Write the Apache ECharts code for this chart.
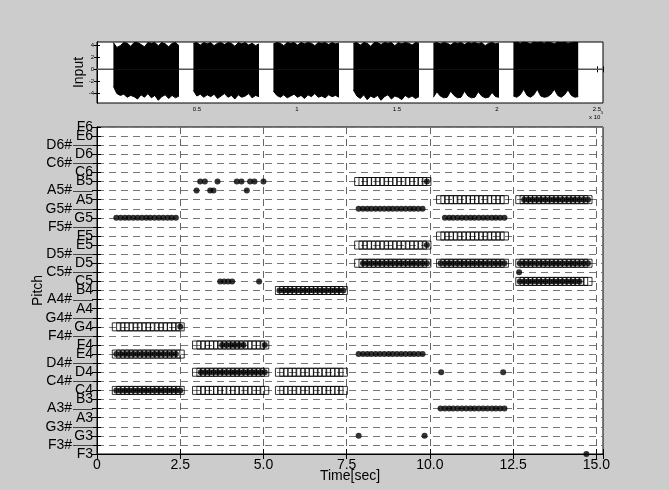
<!DOCTYPE html>
<html><head><meta charset="utf-8">
<script src="https://cdn.jsdelivr.net/npm/echarts@6/dist/echarts.min.js"></script>
<style>html,body{margin:0;padding:0;background:#cccccc;} #c{width:669px;height:490px;}</style>
</head><body><div id="c"></div>
<script>
// ---------- DATA ----------
const pitchLabels = ['F3','F3#','G3','G3#','A3','A3#','B3','C4','C4#','D4','D4#','E4','F4','F4#','G4','G4#','A4','A4#','B4','C5','C5#','D5','D5#','E5','F5','F5#','G5','G5#','A5','A5#','B5','C6','C6#','D6','D6#','E6','F6'];
const timeTicks = [0, 2.5, 5, 7.5, 10, 12.5, 15];
const inputTicks = [-4, -2, 0, 2, 4];

// frame times (sec) of the analysis frames in each note segment
const frames1 = [0.58,0.71,0.84,0.96,1.09,1.22,1.35,1.48,1.60,1.73,1.86,1.99,2.12,2.24,2.37,2.50];
const frames2 = [2.99,3.12,3.25,3.38,3.50,3.63,3.76,3.89,4.02,4.14,4.27,4.40,4.53,4.66,4.78,4.91,5.04];
const frames3 = [5.48,5.61,5.74,5.86,5.99,6.12,6.25,6.38,6.50,6.63,6.76,6.89,7.02,7.14,7.27,7.40];
const frames4 = [7.86,7.99,8.12,8.24,8.37,8.50,8.63,8.76,8.88,9.01,9.14,9.27,9.40,9.52,9.65,9.78,9.91];
const frames5 = [10.32,10.45,10.58,10.70,10.83,10.96,11.09,11.22,11.34,11.47,11.60,11.73,11.86,11.98,12.11,12.24];
const frames6 = [12.70,12.83,12.96,13.08,13.21,13.34,13.47,13.60,13.72,13.85,13.98,14.11,14.24,14.36,14.49,14.62,14.75];

// reference notes (open squares) of each segment
const truthNotes = [
  ['C4','E4','G4'],
  ['C4','D4','F4'],
  ['C4','D4','B4'],
  ['D5','E5','B5'],
  ['D5','F5','A5'],
  ['C5','D5','A5']
];
// estimated pitches (filled dots): [segment, pitch, firstFrame, lastFrame]
const estRuns = [
  [0,'G5',0,14],[0,'E4',0,14],[0,'C4',0,15],[0,'G4',15,15],
  [1,'D4',1,16],[1,'F4',6,11],[1,'F4',16,16],
  [2,'B4',0,15],
  [3,'G5#',0,15],[3,'E4',0,15],[3,'D5',1,16],[3,'B5',16,16],[3,'E5',16,16],
  [4,'G5',1,15],[4,'D5',0,15],[4,'A3#',0,15],
  [5,'A5',1,16],[5,'D5',0,16],[5,'C5',0,14]
];
// isolated estimated dots: [time, pitch]
const estPoints = [
  [3.10,'B5'],[3.24,'B5'],[3.62,'B5'],[4.20,'B5'],[4.34,'B5'],[4.60,'B5'],[4.73,'B5'],[5.00,'B5'],
  [2.99,'A5#'],[3.40,'A5#'],[3.50,'A5#'],[4.50,'A5#'],
  [3.70,'C5'],[3.82,'C5'],[3.94,'C5'],[4.06,'C5'],[4.87,'C5'],
  [7.86,'G3'],[9.84,'G3'],
  [10.34,'D4'],[12.20,'D4'],
  [12.68,'C5#'],
  [14.70,'F3']
];

// input waveform: burst start/end (samples) and envelope
const burstStart = [8200, 48200, 88200, 128200, 168200, 208200];
const burstEnd   = [41000, 81000, 121000, 161000, 201000, 240600];
const up1 = [4.4,3.6,3.9,4.4,4.3,3.8,4.4,4.4,4.1,3.7,4.4,4.3,4.4,3.9,4.4,4.2,3.7,4.3,4.4,3.9];
const lo1 = [-2.8,-4.0,-4.3,-4.1,-4.6,-4.3,-4.5,-4.9,-4.2,-4.6,-4.0,-4.7,-4.3,-5.1,-4.5,-4.2,-4.8,-4.3,-4.7,-4.4];
const up2 = [4.3,4.4,4.0,4.4,4.2,4.4,3.9,4.3,4.4,4.1,4.4,4.3,3.8,4.4,4.2,4.4,4.0,4.3,3.9,4.2];
const lo2 = [-3.5,-4.4,-4.1,-4.6,-4.2,-4.5,-4.1,-4.8,-4.4,-4.0,-4.6,-4.3,-4.9,-4.2,-4.6,-4.4,-4.0,-4.7,-4.3,-4.5];
const up3 = [4.2,4.4,4.3,3.9,4.4,4.3,4.4,4.0,4.4,4.2,4.4,4.3,3.9,4.4,4.3,4.4,4.1,4.4,4.2,4.3];
const lo3 = [-3.6,-4.3,-4.6,-4.2,-4.7,-4.4,-4.1,-4.6,-4.3,-4.8,-4.2,-4.5,-4.0,-4.6,-4.4,-4.7,-4.2,-4.5,-4.3,-4.6];
const up4 = [4.3,4.4,4.0,4.4,4.3,3.8,4.4,4.4,4.1,4.4,4.3,4.4,3.9,4.4,4.2,4.4,4.3,4.0,4.4,4.3];
const lo4 = [-3.4,-4.4,-4.8,-4.2,-5.0,-4.4,-4.7,-4.3,-5.1,-4.5,-4.2,-4.9,-4.4,-4.6,-5.0,-4.3,-4.7,-4.4,-4.8,-4.5];
const up5 = [4.3,4.4,4.2,4.4,4.3,4.0,4.4,4.3,4.4,4.1,4.4,4.3,4.4,4.2,4.4,3.9,4.3,4.4,4.2,4.3];
const lo5 = [-4.6,-3.7,-4.4,-4.7,-4.6,-3.6,-4.3,-4.7,-4.6,-3.6,-4.4,-4.7,-4.6,-3.7,-4.4,-4.7,-4.6,-3.8,-4.5,-4.6];
const up6 = [4.4,4.5,4.3,4.5,4.4,4.2,4.5,4.4,4.5,4.3,4.5,4.4,4.2,4.5,4.4,4.5,4.3,4.4,4.5,4.4];
const lo6 = [-4.4,-4.6,-4.2,-3.3,-4.3,-4.6,-4.2,-3.3,-4.4,-4.6,-4.5,-4.1,-3.3,-4.3,-4.6,-4.2,-3.4,-4.3,-4.6,-4.5];

// ---------- BUILD ----------
const allFrames = [frames1, frames2, frames3, frames4, frames5, frames6];
const uppers = [up1, up2, up3, up4, up5, up6];
const lowers = [lo1, lo2, lo3, lo4, lo5, lo6];
const pIdx = p => pitchLabels.indexOf(p);
const sharpIdx = [], naturalIdx = [];
pitchLabels.forEach((p, i) => { (p.endsWith('#') ? sharpIdx : naturalIdx).push(i); });
// natural labels that sit directly under the top label go on a helper axis
const topIdx = pitchLabels.length - 1;
const naturalMain = naturalIdx.filter(i => i !== topIdx - 1);
const naturalExtra = naturalIdx.filter(i => i === topIdx - 1);

const squareData = [];
truthNotes.forEach((notes, s) => {
  notes.forEach(p => allFrames[s].forEach(t => squareData.push([t, pIdx(p)])));
});
const dotData = [];
estRuns.forEach(([s, p, a, b]) => {
  for (let i = a; i <= b; i++) dotData.push([allFrames[s][i], pIdx(p)]);
});
estPoints.forEach(([t, p]) => dotData.push([t, pIdx(p)]));

const FONT = 'Liberation Sans';
const waveSeries = [];
waveSeries.push({
  type: 'line', xAxisIndex: 0, yAxisIndex: 0, data: [[0, 0], [253000, 0]],
  symbol: 'none', silent: true, lineStyle: { color: '#555', width: 1.5 }, z: 1
});
burstStart.forEach((st, b) => {
  [uppers[b], lowers[b]].forEach(env => {
    const n = env.length;
    const d = env.map((v, i) => [st + (burstEnd[b] - st) * i / (n - 1), v]);
    waveSeries.push({
      type: 'line', xAxisIndex: 0, yAxisIndex: 0, data: d, symbol: 'none', silent: true,
      lineStyle: { color: '#000', width: 1 },
      areaStyle: { color: '#000', opacity: 1, origin: 0 }, z: 2
    });
  });
});

const chart = echarts.init(document.getElementById('c'), null, { renderer: 'canvas' });
const blackLine = { lineStyle: { color: '#000', width: 1 } };
const baseGraphic = [
  { type: 'text', left: 589, top: 114, style: { text: 'x 10', fontSize: 6, fill: '#000', fontFamily: FONT } },
  { type: 'text', left: 601, top: 111, style: { text: '5', fontSize: 4, fill: '#000', fontFamily: FONT } }
];
const noAxisLine = { show: false };
chart.setOption({
  animation: false,
  backgroundColor: '#cccccc',
  textStyle: { fontFamily: FONT },
  grid: [
    { left: 97, right: 66, top: 42, height: 61, show: true, backgroundColor: '#fff', borderColor: '#000', borderWidth: 1 },
    { left: 97, right: 66, top: 127, bottom: 36, show: true, backgroundColor: '#fff', borderColor: '#000', borderWidth: 1 }
  ],
  xAxis: [
    { gridIndex: 0, type: 'value', min: 0, max: 253000, interval: 50000,
      axisLine: blackLine, axisTick: { inside: true, length: 3, lineStyle: { color: '#000' } },
      axisLabel: { fontSize: 6, margin: 3, color: '#000', fontFamily: FONT,
        formatter: v => (v > 0 && v <= 250000) ? String(v / 1e5) : '' },
      splitLine: { show: false } },
    { gridIndex: 1, type: 'value', min: 0, max: 15.2, interval: 2.5,
      name: 'Time[sec]', nameLocation: 'middle', nameGap: 15, nameMoveOverlap: false,
      nameTextStyle: { fontSize: 14, color: '#000', fontFamily: FONT, verticalAlign: 'top' },
      axisLine: blackLine, axisTick: { inside: true, length: 5, lineStyle: { color: '#000' } },
      axisLabel: { fontSize: 14, margin: 4, color: '#000', fontFamily: FONT, showMinLabel: true,
        formatter: v => timeTicks.includes(v) ? (v === 0 ? '0' : v.toFixed(1)) : '' },
      splitLine: { show: true, lineStyle: { color: '#666', width: 1, type: [7, 5] } } },
    { gridIndex: 0, type: 'value', position: 'top', min: 0, max: 253000, interval: 50000,
      axisLine: blackLine, axisTick: { inside: true, length: 3, lineStyle: { color: '#000' } },
      axisLabel: { show: false }, splitLine: { show: false } },
    { gridIndex: 1, type: 'value', position: 'top', min: 0, max: 15.2, interval: 2.5,
      axisLine: blackLine, axisTick: { inside: true, length: 5, lineStyle: { color: '#000' } },
      axisLabel: { show: false }, splitLine: { show: false } }
  ],
  yAxis: [
    { gridIndex: 0, type: 'value', min: -5.55, max: 4.5,
      name: 'Input', nameLocation: 'middle', nameGap: 11, nameMoveOverlap: false,
      nameTextStyle: { fontSize: 14, color: '#000', fontFamily: FONT },
      axisLine: blackLine,
      axisTick: { inside: true, length: 3, customValues: inputTicks, lineStyle: { color: '#000' } },
      axisLabel: { fontSize: 6, margin: 3, color: '#000', customValues: inputTicks, fontFamily: FONT },
      splitLine: { show: false } },
    // natural-note labels
    { gridIndex: 1, type: 'value', min: 0, max: 36, interval: 1,
      name: 'Pitch', nameLocation: 'middle', nameGap: 52, nameMoveOverlap: false,
      nameTextStyle: { fontSize: 14, color: '#000', fontFamily: FONT },
      axisLine: blackLine, axisTick: { inside: true, length: 4, lineStyle: { color: '#000' } },
      axisLabel: {
        margin: 4, color: '#000', fontSize: 14, fontFamily: FONT,
        customValues: naturalMain, showMinLabel: true, showMaxLabel: true,
        formatter: v => pitchLabels[Math.round(v)]
      },
      splitLine: { show: true, lineStyle: { color: '#777', width: 1, type: [7, 5] } } },
    { gridIndex: 0, type: 'value', position: 'right', min: -5.55, max: 4.5,
      axisLine: blackLine,
      axisTick: { inside: true, length: 3, customValues: inputTicks, lineStyle: { color: '#000' } },
      axisLabel: { show: false }, splitLine: { show: false } },
    { gridIndex: 1, type: 'value', position: 'right', min: 0, max: 36, interval: 1,
      axisLine: blackLine, axisTick: { inside: true, length: 5, lineStyle: { color: '#000' } },
      axisLabel: { show: false }, splitLine: { show: false } },
    // sharp-note labels (leader dash added below)
    { gridIndex: 1, type: 'value', position: 'left', offset: 4, min: 0, max: 36,
      axisLine: noAxisLine, axisTick: { show: false },
      axisLabel: { margin: 21, color: '#000', fontSize: 14, fontFamily: FONT, customValues: sharpIdx,
        formatter: v => pitchLabels[Math.round(v)] },
      splitLine: { show: false } },
    // helper axis for the natural label just below the top one
    { gridIndex: 1, type: 'value', position: 'left', min: 0, max: 36,
      axisLine: noAxisLine, axisTick: { show: false },
      axisLabel: { margin: 4, color: '#000', fontSize: 14, fontFamily: FONT, customValues: naturalExtra,
        formatter: v => pitchLabels[Math.round(v)] },
      splitLine: { show: false } }
  ],
  graphic: baseGraphic,
  series: waveSeries.concat([
    { type: 'scatter', xAxisIndex: 1, yAxisIndex: 1, data: squareData, symbol: 'rect', symbolSize: 8,
      silent: true, itemStyle: { color: 'rgba(255,255,255,0)', borderColor: '#000', borderWidth: 1 }, z: 3 },
    { type: 'scatter', xAxisIndex: 1, yAxisIndex: 1, data: dotData, symbol: 'circle', symbolSize: 6,
      silent: true, itemStyle: { color: '#000' }, z: 4 }
  ])
});

// leader dashes between sharp labels and the axis, placed through the axis scale
const x0 = chart.convertToPixel({ xAxisIndex: 1 }, 0);
const dashes = sharpIdx.map(i => {
  const y = Math.round(chart.convertToPixel({ yAxisIndex: 1 }, i)) + 0.5;
  return { type: 'line', silent: true, z: 50,
    shape: { x1: x0 - 24, y1: y, x2: x0 - 4, y2: y },
    style: { stroke: '#444', lineWidth: 1 } };
});
chart.setOption({ graphic: baseGraphic.concat(dashes) });
</script>
</body></html>
